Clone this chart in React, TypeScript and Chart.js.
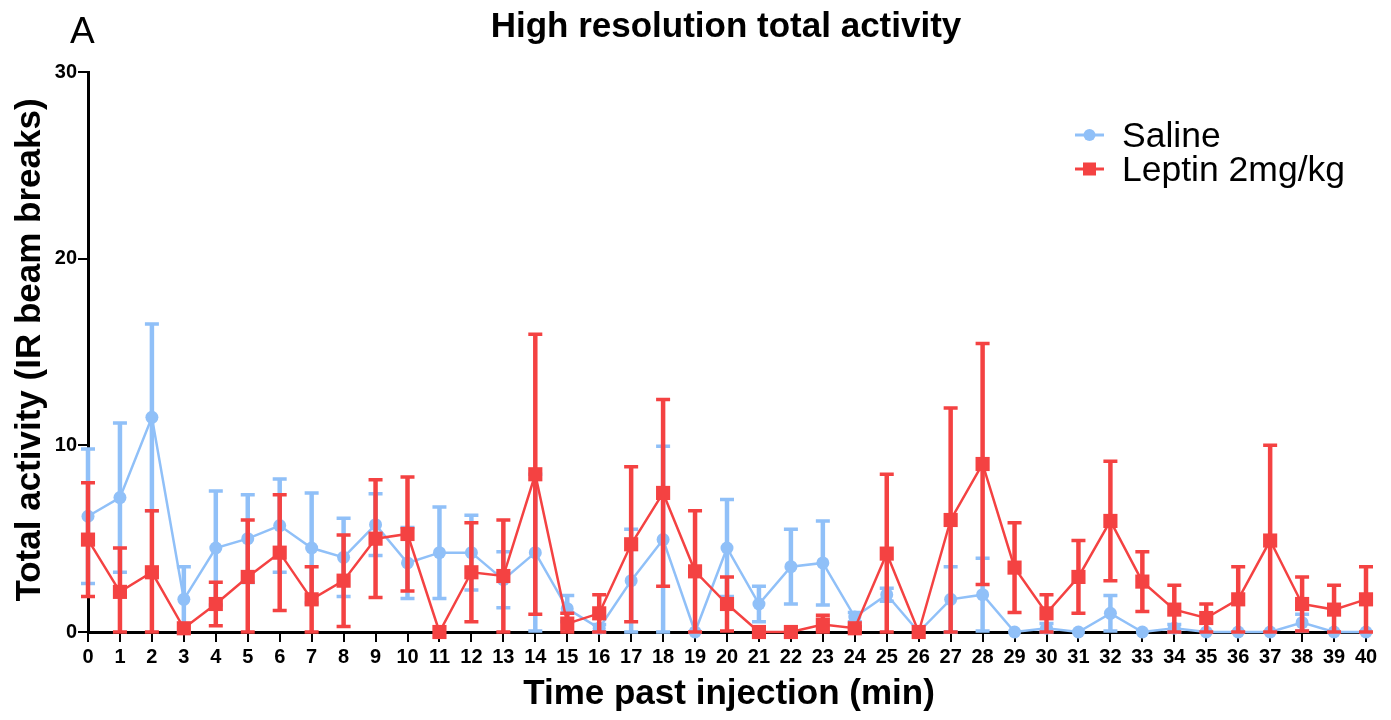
import React, { useEffect, useRef } from 'react';
import { Chart, registerables } from 'chart.js';

Chart.register(...registerables);

const minutes = ['0','1','2','3','4','5','6','7','8','9','10','11','12','13','14','15','16','17','18','19','20','21','22','23','24','25','26','27','28','29','30','31','32','33','34','35','36','37','38','39','40'];

const salineMean = [6.2, 7.2, 11.5, 1.75, 4.5, 5.0, 5.7, 4.5, 4.0, 5.75, 3.7, 4.25, 4.25, 2.8, 4.25, 1.25, 0.2, 2.75, 4.95, 0, 4.5, 1.5, 3.5, 3.7, 0.8, 2.0, 0, 1.75, 2.0, 0, 0.2, 0, 1.0, 0, 0.2, 0, 0, 0, 0.5, 0, 0];
const salineSem = [3.6, 4.0, 5.0, 1.75, 3.05, 2.35, 2.5, 2.95, 2.1, 1.65, 1.9, 2.45, 2.0, 1.5, 4.2, 0.7, 0.2, 2.75, 5.0, 0, 2.6, 0.95, 2.0, 2.25, 0.25, 0.35, 0, 1.75, 1.95, 0, 0.25, 0, 0.95, 0, 0.2, 0, 0, 0, 0.45, 0, 0];

const leptinMean = [4.95, 2.15, 3.2, 0.2, 1.5, 2.95, 4.25, 1.75, 2.75, 5.0, 5.25, 0, 3.2, 3.0, 8.45, 0.45, 1.0, 4.7, 7.45, 3.25, 1.5, 0, 0, 0.4, 0.2, 4.2, 0, 6.0, 9.0, 3.45, 1.0, 2.95, 5.95, 2.7, 1.2, 0.75, 1.75, 4.9, 1.5, 1.2, 1.75];
const leptinSem = [3.05, 2.35, 3.3, 0, 1.17, 3.05, 3.1, 1.75, 2.45, 3.15, 3.05, 0, 2.65, 3.0, 7.5, 0.55, 1.0, 4.15, 5.0, 3.25, 1.45, 0, 0, 0.5, 0.1, 4.25, 0, 6.0, 6.45, 2.4, 1.0, 1.95, 3.2, 1.6, 1.3, 0.75, 1.75, 5.1, 1.45, 1.3, 1.75];

const seriesNames = ['Saline', 'Leptin 2mg/kg'];
const seriesColors = ['#90C0F8', '#F44242'];
const yMin = 0;
const yMax = 30;
const yStep = 10;

const chartTitle = 'High resolution total activity';
const xTitle = 'Time past injection (min)';
const yTitle = 'Total activity (IR beam breaks)';
const panelLabel = 'A';

const FONT = '"Liberation Sans", Arial, Helvetica, sans-serif';

const errorBarPlugin = {
  id: 'errorBars',
  beforeDatasetDraw(chart: any, args: any) {
    const ds = chart.data.datasets[args.index];
    const sem: number[] | undefined = ds.sem;
    if (!sem) return;
    const ctx = chart.ctx;
    const xs = chart.scales.x;
    const ys = chart.scales.y;
    ctx.save();
    ctx.strokeStyle = ds.borderColor;
    ds.data.forEach((v: number, i: number) => {
      const e = sem[i];
      if (!e) return;
      const px = xs.getPixelForValue(i);
      const top = ys.getPixelForValue(v + e);
      const bot = ys.getPixelForValue(Math.max(0, v - e));
      ctx.lineWidth = 4.5;
      ctx.beginPath();
      ctx.moveTo(px, top);
      ctx.lineTo(px, bot);
      ctx.stroke();
      ctx.lineWidth = 3.5;
      ctx.beginPath();
      ctx.moveTo(px - 7, top);
      ctx.lineTo(px + 7, top);
      ctx.moveTo(px - 7, bot);
      ctx.lineTo(px + 7, bot);
      ctx.stroke();
    });
    ctx.restore();
  },
};

const textPlugin = {
  id: 'textDecor',
  afterDraw(chart: any) {
    const ctx = chart.ctx;
    const area = chart.chartArea;
    ctx.save();
    ctx.fillStyle = '#000';
    // panel label
    ctx.font = `37px ${FONT}`;
    ctx.textAlign = 'left';
    ctx.textBaseline = 'alphabetic';
    ctx.fillText(panelLabel, 70, 43);
    // title
    ctx.font = `bold 35px ${FONT}`;
    ctx.textAlign = 'center';
    ctx.fillText(chartTitle, 726, 37);
    // x title
    ctx.fillText(xTitle, (area.left + area.right) / 2 + 2, 704);
    // y title
    ctx.save();
    ctx.translate(39.5, 350);
    ctx.rotate(-Math.PI / 2);
    ctx.fillText(yTitle, 0, 0);
    ctx.restore();

    // legend
    const rows = [
      { y: 135, text: seriesNames[0], color: seriesColors[0], style: 'circle' },
      { y: 169, text: seriesNames[1], color: seriesColors[1], style: 'rect' },
    ];
    rows.forEach((r) => {
      ctx.strokeStyle = r.color;
      ctx.fillStyle = r.color;
      ctx.lineWidth = 3;
      ctx.beginPath();
      ctx.moveTo(1075, r.y);
      ctx.lineTo(1104, r.y);
      ctx.stroke();
      if (r.style === 'circle') {
        ctx.beginPath();
        ctx.arc(1089.5, r.y, 6, 0, Math.PI * 2);
        ctx.fill();
      } else {
        ctx.fillRect(1083, r.y - 6.5, 13, 13);
      }
      ctx.fillStyle = '#000';
      ctx.font = `35.5px ${FONT}`;
      ctx.textAlign = 'left';
      ctx.textBaseline = 'alphabetic';
      ctx.fillText(r.text, 1122, r.y + 12);
    });
    ctx.restore();
  },
};

export default function App() {
  const canvasRef = useRef<HTMLCanvasElement | null>(null);

  useEffect(() => {
    const canvas = canvasRef.current;
    if (!canvas) return;
    const chart = new Chart(canvas, {
      type: 'line',
      data: {
        labels: minutes,
        datasets: [
          {
            label: seriesNames[0],
            data: salineMean,
            sem: salineSem,
            borderColor: seriesColors[0],
            backgroundColor: seriesColors[0],
            borderWidth: 2.5,
            pointStyle: 'circle',
            pointRadius: 6.5,
            pointBorderWidth: 0,
            pointBackgroundColor: seriesColors[0],
            tension: 0,
            clip: false,
            order: 2,
          } as any,
          {
            label: seriesNames[1],
            data: leptinMean,
            sem: leptinSem,
            borderColor: seriesColors[1],
            backgroundColor: seriesColors[1],
            borderWidth: 2.5,
            pointStyle: 'rect',
            pointRadius: 10,
            pointBorderWidth: 0,
            pointBackgroundColor: seriesColors[1],
            tension: 0,
            clip: false,
            order: 1,
          } as any,
        ],
      },
      options: {
        responsive: false,
        animation: false,
        devicePixelRatio: 1,
        layout: { padding: { top: 72, right: 25, left: 0, bottom: 0 } },
        plugins: {
          legend: { display: false },
          title: { display: false },
          tooltip: { enabled: false },
        },
        scales: {
          x: {
            type: 'category',
            offset: false,
            afterFit: (scale: any) => { scale.height = 88; },
            grid: {
              display: true,
              drawOnChartArea: false,
              drawTicks: true,
              tickLength: 10,
              color: '#000',
              lineWidth: 2,
            },
            border: { display: true, color: '#000', width: 3 },
            ticks: {
              autoSkip: false,
              maxRotation: 0,
              minRotation: 0,
              padding: 3,
              color: '#000',
              font: { family: FONT, size: 20, weight: 'bold' },
            },
          },
          y: {
            type: 'linear',
            min: yMin,
            max: yMax,
            afterFit: (scale: any) => { scale.width = 88; },
            grid: {
              display: true,
              drawOnChartArea: false,
              drawTicks: true,
              tickLength: 10,
              color: '#000',
              lineWidth: 2,
            },
            border: { display: true, color: '#000', width: 3 },
            ticks: {
              stepSize: yStep,
              padding: 1,
              color: '#000',
              font: { family: FONT, size: 20, weight: 'bold' },
            },
          },
        },
      } as any,
      plugins: [errorBarPlugin, textPlugin],
    });
    return () => chart.destroy();
  }, []);

  return (
    <div style={{ position: 'fixed', left: 0, top: 0, width: 1391, height: 720, background: '#fff' }}>
      <canvas ref={canvasRef} width={1391} height={720} style={{ width: 1391, height: 720, display: 'block' }} />
    </div>
  );
}
